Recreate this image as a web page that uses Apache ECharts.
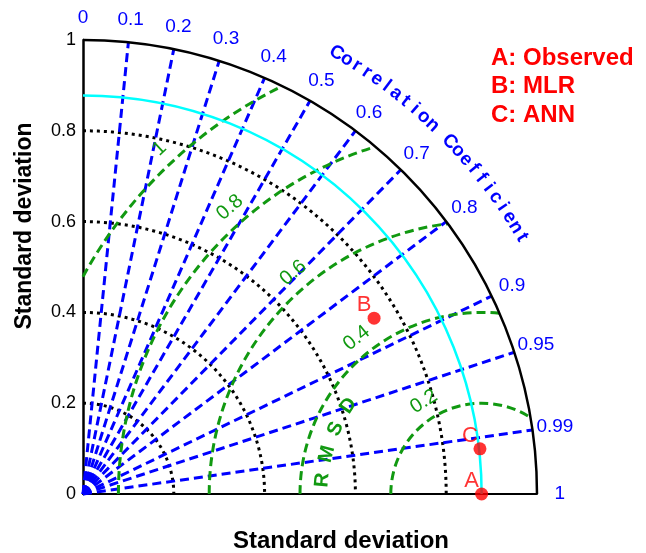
<!DOCTYPE html>
<html>
<head>
<meta charset="utf-8">
<script src="https://cdn.jsdelivr.net/npm/echarts@6/dist/echarts.min.js"></script>
<style>
  html, body { margin: 0; padding: 0; background: #fff; }
  #chart { width: 646px; height: 553px; }
</style>
</head>
<body>
<div id="chart"></div>
<script>
// values
const pointNames = ['A', 'B', 'C'];
const legendLines = ['A: Observed', 'B: MLR', 'C: ANN'];
const stdDev = [0.878, 0.749, 0.880];
const corrCoef = [1, 0.856, 0.9936];

const stdTicks = [0, 0.2, 0.4, 0.6, 0.8, 1];
const stdArcs = [0.2, 0.4, 0.6, 0.8];
const maxStd = 1;
const corrLines = [0.1, 0.2, 0.3, 0.4, 0.5, 0.6, 0.7, 0.8, 0.9, 0.95, 0.99];
const corrLabels = [0, 0.1, 0.2, 0.3, 0.4, 0.5, 0.6, 0.7, 0.8, 0.9, 0.95, 0.99, 1];
const rmsArcs = [0.2, 0.4, 0.6, 0.8, 1];
const rmsLabels = ['0.2', '0.4', '0.6', '0.8', '1'];
const rmsLabelAngles = [122, 128.7, 130.4, 131.3, 133];
const rmsdLetters = ['R', 'M', 'S', 'D'];
const rmsdAngles = [175, 165.5, 156, 146.5];
const corrTitle = 'Correlation Coefficient';

const FONT = '"Liberation Sans", Arial, Helvetica, sans-serif';
const BLUE = '#0000ff';
const GREEN = '#119911';
const RED = '#ff0000';
const refStd = stdDev[0];
const rad = (d) => (d * Math.PI) / 180;

// arc centred at data point (cx, 0), math angles a1 > a2 (degrees)
function arc(api, cx, r, a1, a2, style) {
  const c = api.coord([cx, 0]);
  const pr = api.size([r, 0])[0];
  return {
    type: 'arc',
    shape: { cx: c[0], cy: c[1], r: pr, startAngle: -rad(a1), endAngle: -rad(a2), clockwise: true },
    style: Object.assign({ fill: null }, style),
  };
}

function rmsEnds(r) {
  const xc = refStd;
  const a1 = r <= xc ? 180 : (Math.atan2(Math.sqrt(r * r - xc * xc), -xc) * 180) / Math.PI;
  const xi = (maxStd * maxStd + xc * xc - r * r) / (2 * xc);
  const yi = Math.sqrt(maxStd * maxStd - xi * xi);
  const a2 = (Math.atan2(yi, xi - xc) * 180) / Math.PI;
  return [a1, a2];
}

const chart = echarts.init(document.getElementById('chart'));

const option = {
  backgroundColor: '#fff',
  animation: false,
  grid: { left: 83, top: 40, width: 454, height: 454 },
  xAxis: {
    type: 'value', min: 0, max: maxStd,
    axisLine: { show: true, lineStyle: { color: '#000', width: 2 } },
    axisTick: { show: false },
    axisLabel: { show: false },
    splitLine: { show: false },
  },
  yAxis: {
    type: 'value', min: 0, max: maxStd, interval: 0.2,
    axisLine: { show: true, lineStyle: { color: '#000', width: 2.5 } },
    axisTick: { show: true, inside: true, length: 3, lineStyle: { color: '#000', width: 1.5 } },
    axisLabel: { color: '#000', fontFamily: FONT, fontSize: 18, margin: 7,
      formatter: (v) => (stdTicks.includes(+v.toFixed(1)) ? String(+v.toFixed(1)) : '') },
    splitLine: { show: false },
  },
  graphic: [
    { type: 'text', x: 341, y: 541, style: { text: 'Standard deviation', font: 'bold 24px ' + FONT, fill: '#000', align: 'center', verticalAlign: 'middle' } },
    { type: 'text', x: 25, y: 226, rotation: Math.PI / 2, style: { text: 'Standard deviation', font: 'bold 23px ' + FONT, fill: '#000', align: 'center', verticalAlign: 'middle' } },
  ].concat(legendLines.map((t, i) => ({
    type: 'text', x: 491, y: 58 + i * 28.5,
    style: { text: t, font: 'bold 24px ' + FONT, fill: RED, align: 'left', verticalAlign: 'middle' },
  }))),
  series: [
    {
      type: 'custom', name: 'std arcs', silent: true,
      data: stdArcs.map((r) => [r, 0]),
      renderItem: (p, api) => arc(api, 0, api.value(0), 90, 0, { stroke: '#000', lineWidth: 3, lineDash: [3, 4] }),
    },
    {
      type: 'custom', name: 'corr lines', silent: true,
      data: corrLines.map((c) => [c, 0]),
      renderItem: (p, api) => {
        const c = api.value(0);
        const p0 = api.coord([0, 0]);
        const p1 = api.coord([maxStd * c, maxStd * Math.sqrt(1 - c * c)]);
        return { type: 'line', shape: { x1: p0[0], y1: p0[1], x2: p1[0], y2: p1[1] },
          style: { stroke: BLUE, lineWidth: 3, lineDash: [9, 5] } };
      },
    },
    {
      type: 'custom', name: 'rms arcs', silent: true,
      data: rmsArcs.map((r) => [r, 0]),
      renderItem: (p, api) => {
        const r = api.value(0);
        const e = rmsEnds(r);
        return arc(api, refStd, r, e[0], e[1], { stroke: GREEN, lineWidth: 3, lineDash: [9, 5] });
      },
    },
    {
      type: 'custom', name: 'ref arc', silent: true,
      data: [[refStd, 0]],
      renderItem: (p, api) => arc(api, 0, api.value(0), 90, 0, { stroke: '#00ffff', lineWidth: 2.5 }),
    },
    {
      type: 'custom', name: 'outer arc', silent: true,
      data: [[maxStd, 0]],
      renderItem: (p, api) => arc(api, 0, api.value(0), 90, 0, { stroke: '#000', lineWidth: 2.5 }),
    },
    {
      type: 'custom', name: 'corr labels', silent: true,
      data: corrLabels.map((c) => [c, 0]),
      renderItem: (p, api) => {
        const c = api.value(0);
        const q = api.coord([1.05 * maxStd * c, 1.05 * maxStd * Math.sqrt(1 - c * c)]);
        return { type: 'text', x: q[0], y: q[1],
          style: { text: String(corrLabels[p.dataIndex]), font: '19px ' + FONT, fill: BLUE, align: 'center', verticalAlign: 'middle' } };
      },
    },
    {
      type: 'custom', name: 'corr title', silent: true,
      data: corrTitle.split('').map((ch, i) => [i, 0]),
      renderItem: (p, api) => {
        const i = api.value(0);
        const a = 60.1 - i * (29.8 / (corrTitle.length - 1));
        const rr = 1.12 * maxStd;
        const q = api.coord([rr * Math.cos(rad(a)), rr * Math.sin(rad(a))]);
        return { type: 'text', x: q[0], y: q[1], rotation: rad(a - 90),
          style: { text: corrTitle[i], font: 'bold 19px ' + FONT, fill: BLUE, align: 'center', verticalAlign: 'middle' } };
      },
    },
    {
      type: 'custom', name: 'rms labels', silent: true,
      data: rmsArcs.map((r, i) => [r, rmsLabelAngles[i]]),
      renderItem: (p, api) => {
        const r = api.value(0) + 0.04;
        const a = api.value(1);
        const q = api.coord([refStd + r * Math.cos(rad(a)), r * Math.sin(rad(a))]);
        return { type: 'text', x: q[0], y: q[1], rotation: rad(a - 90),
          style: { text: rmsLabels[p.dataIndex], font: '20px ' + FONT, fill: GREEN, align: 'center', verticalAlign: 'middle' } };
      },
    },
    {
      type: 'custom', name: 'rmsd title', silent: true,
      data: rmsdLetters.map((ch, i) => [0.352, rmsdAngles[i]]),
      renderItem: (p, api) => {
        const r = api.value(0);
        const a = api.value(1);
        const q = api.coord([refStd + r * Math.cos(rad(a)), r * Math.sin(rad(a))]);
        return { type: 'text', x: q[0], y: q[1], rotation: rad(a - 90),
          style: { text: rmsdLetters[p.dataIndex], font: 'bold 20px ' + FONT, fill: GREEN, align: 'center', verticalAlign: 'middle' } };
      },
    },
    {
      type: 'scatter', name: 'models', z: 10,
      symbol: 'circle', symbolSize: 13,
      itemStyle: { color: RED },
      data: pointNames.map((n, i) => ({
        name: n,
        value: [stdDev[i] * corrCoef[i], stdDev[i] * Math.sqrt(Math.max(0, 1 - corrCoef[i] * corrCoef[i]))],
      })),
      label: {
        show: true, position: 'inside', offset: [-10, -13],
        formatter: '{b}', color: RED, fontFamily: FONT, fontSize: 22,
      },
    },
  ],
};

chart.setOption(option);
</script>
</body>
</html>
